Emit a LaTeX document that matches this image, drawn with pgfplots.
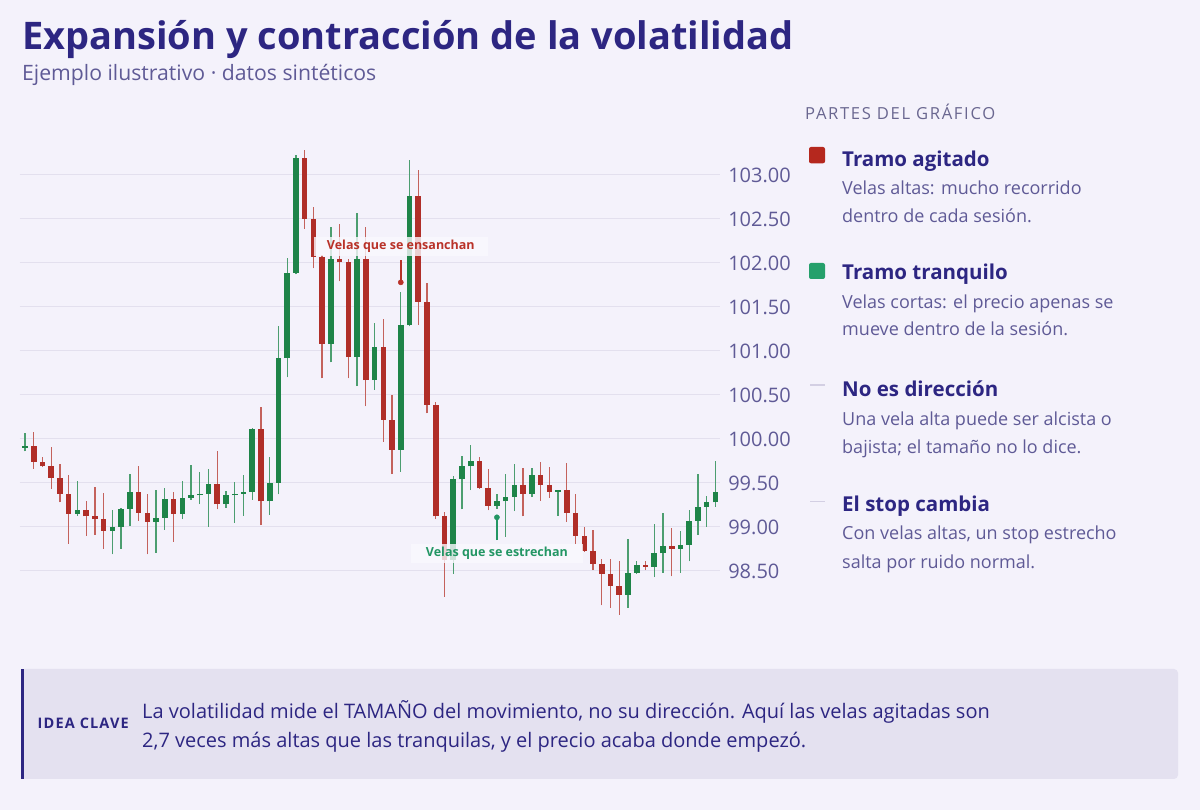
\documentclass[border=0pt]{standalone}
\usepackage{fontspec}
\setmainfont{Open Sans}
\usepackage{pgfplots}
\pgfplotsset{compat=1.18}
\usepackage{pgfplotstable}

\definecolor{bgcol}{HTML}{F4F2FB}
\definecolor{ink}{HTML}{2D2682}
\definecolor{muted}{HTML}{5F5A96}
\definecolor{hdr}{HTML}{6A6790}
\definecolor{gridc}{HTML}{E3E0EE}
\definecolor{boxc}{HTML}{E4E1F0}
\definecolor{upc}{HTML}{1E8448}
\definecolor{dnc}{HTML}{B02E28}
\definecolor{upw}{HTML}{4C9E70}
\definecolor{dnw}{HTML}{C4625C}
\definecolor{legred}{HTML}{B5281E}
\definecolor{leggreen}{HTML}{25A06B}
\definecolor{labred}{HTML}{B93229}
\definecolor{labgreen}{HTML}{239664}
\definecolor{dashc}{HTML}{D3CFE3}
\definecolor{labbg}{HTML}{FAF9FE}

% velas bajistas: x apertura maximo minimo cierre
\pgfplotstableread{
x o h l c
1 99.92 100.08 99.66 99.74
2 99.74 99.79 99.68 99.69
3 99.69 99.91 99.43 99.56
4 99.56 99.72 99.28 99.38
5 99.38 99.59 98.81 99.15
7 99.19 99.30 98.90 99.12
8 99.12 99.46 98.91 99.09
9 99.09 99.39 98.75 98.96
13 99.40 99.69 99.07 99.16
14 99.16 99.38 98.69 99.06
17 99.32 99.40 98.83 99.15
22 99.49 99.86 99.20 99.26
27 100.11 100.36 99.02 99.29
32 103.19 103.28 102.39 102.50
33 102.50 102.64 101.94 102.07
34 102.07 102.09 100.69 101.08
36 102.05 102.44 101.79 102.01
37 102.01 102.05 100.69 100.93
39 102.05 102.41 100.37 100.67
41 101.04 101.36 99.97 100.22
42 100.22 100.50 99.60 99.88
45 102.76 103.06 101.30 101.56
46 101.56 101.77 100.29 100.39
47 100.39 100.42 99.09 99.12
48 99.12 99.17 98.21 98.63
52 99.75 99.79 99.43 99.44
53 99.44 99.66 99.19 99.24
57 99.48 99.67 99.12 99.38
59 99.59 99.74 99.30 99.48
60 99.48 99.68 99.33 99.40
62 99.42 99.73 99.06 99.16
63 99.16 99.38 98.81 98.90
64 98.90 99.00 98.72 98.73
65 98.73 98.97 98.51 98.58
66 98.58 98.64 98.11 98.47
67 98.47 98.64 98.08 98.33
68 98.33 98.61 98.00 98.23
71 98.57 98.61 98.51 98.55
74 98.78 98.99 98.44 98.75
}\downtab

% velas alcistas
\pgfplotstableread{
x o h l c
0 99.90 100.07 99.86 99.92
6 99.15 99.52 99.13 99.19
10 98.96 99.19 98.69 99.00
11 99.00 99.22 98.75 99.21
12 99.21 99.60 99.01 99.40
15 99.06 99.42 98.71 99.10
16 99.10 99.44 98.97 99.32
18 99.15 99.52 99.09 99.33
19 99.33 99.70 99.31 99.36
20 99.36 99.62 99.26 99.38
21 99.38 99.66 99.00 99.49
23 99.26 99.41 99.22 99.36
24 99.36 99.51 99.05 99.38
25 99.38 99.59 99.13 99.40
26 99.40 100.13 99.31 100.11
28 99.29 99.80 99.14 99.50
29 99.50 101.28 99.37 100.92
30 100.92 102.06 100.70 101.89
31 101.89 103.23 101.87 103.19
35 101.08 102.41 100.87 102.05
38 100.93 102.57 100.60 102.05
40 100.67 101.32 100.56 101.04
43 99.88 101.67 99.63 101.29
44 101.29 103.17 101.28 102.76
49 98.63 99.58 98.47 99.54
50 99.54 99.81 99.20 99.69
51 99.69 99.93 99.42 99.75
54 99.24 99.38 99.21 99.29
55 99.29 99.60 98.89 99.34
56 99.34 99.72 99.18 99.48
58 99.38 99.67 99.34 99.59
61 99.40 99.42 99.13 99.42
69 98.23 98.86 98.08 98.48
70 98.48 98.61 98.47 98.57
72 98.55 99.03 98.43 98.70
73 98.70 99.16 98.48 98.78
75 98.75 98.95 98.48 98.80
76 98.80 99.19 98.61 99.07
77 99.07 99.60 98.91 99.23
78 99.23 99.35 99.00 99.28
79 99.28 99.75 99.23 99.40
}\uptab

\newcommand{\fs}[1]{\fontsize{#1}{#1}\selectfont}

\begin{document}
\begin{tikzpicture}[x=1pt, y=1pt]
\fill[bgcol] (0,0) rectangle (1200,810);
\useasboundingbox (0,0) rectangle (1200,810);

\begin{axis}[
    at={(19.76pt,190.6pt)}, anchor=south west,
    scale only axis, width=700pt, height=475.2pt,
    xmin=-0.6, xmax=79.5, ymin=97.95, ymax=103.35,
    axis line style={draw=none}, tick style={draw=none},
    xtick=\empty,
    ytick={98.5,99,99.5,100,100.5,101,101.5,102,102.5,103},
    yticklabel pos=right,
    ymajorgrids, grid style={gridc, line width=1pt},
    yticklabel style={anchor=west, xshift=5pt, text=muted,
        font=\fs{20},
        /pgf/number format/.cd, fixed, fixed zerofill, precision=2,
        assume math mode=true},
    clip=false,
]
% mechas
\addplot[draw=none, mark=none, error bars/.cd, y dir=plus, y explicit,
    error mark=none, error bar style={draw=dnw, line width=1.3pt}]
    table[x=x, y=l, y error plus expr=\thisrow{h}-\thisrow{l}] {\downtab};
\addplot[draw=none, mark=none, error bars/.cd, y dir=plus, y explicit,
    error mark=none, error bar style={draw=upw, line width=1.3pt}]
    table[x=x, y=l, y error plus expr=\thisrow{h}-\thisrow{l}] {\uptab};
% cuerpos
\addplot[draw=none, mark=none, error bars/.cd, y dir=plus, y explicit,
    error mark=none, error bar style={draw=dnc, line width=5.6pt}]
    table[x=x, y=c, y error plus expr=\thisrow{o}-\thisrow{c}] {\downtab};
\addplot[draw=none, mark=none, error bars/.cd, y dir=plus, y explicit,
    error mark=none, error bar style={draw=upc, line width=5.6pt}]
    table[x=x, y=o, y error plus expr=\thisrow{c}-\thisrow{o}] {\uptab};

% anotaciones
\addplot[labred, line width=1.6pt] coordinates {(43,102.03) (43,101.79)};
\addplot[only marks, mark=*, mark size=2.6pt, labred] coordinates {(43,101.78)};
\addplot[labgreen, line width=1.6pt] coordinates {(54,98.85) (54,99.10)};
\addplot[only marks, mark=*, mark size=2.6pt, labgreen] coordinates {(54,99.11)};
\node[fill=labbg, fill opacity=0.8, text opacity=1, inner xsep=13pt, inner ysep=3pt,
    text=labred, font=\bfseries\fs{12.5}] at (axis cs:43,102.19) {Velas que se ensanchan};
\node[fill=labbg, fill opacity=0.8, text opacity=1, inner xsep=15pt, inner ysep=3pt,
    text=labgreen, font=\bfseries\fs{12.5}] at (axis cs:54,98.70) {Velas que se estrechan};
\end{axis}

% titulo
\node[anchor=base west, inner sep=0, text=ink, font=\bfseries\fs{38}] at (22,760.5)
    {Expansión y contracción de la volatilidad};
\node[anchor=base west, inner sep=0, text=muted, font=\fs{21.2}] at (22,729.5)
    {Ejemplo ilustrativo · datos sintéticos};

% panel derecho
\node[anchor=base west, inner sep=0, text=hdr, font=\fs{16.6}\addfontfeature{LetterSpace=10}]
    at (805,690) {PARTES DEL GRÁFICO};

\fill[legred, rounded corners=2pt] (809,646.7) rectangle (825,663);
\node[anchor=base west, inner sep=0, text=ink, font=\bfseries\fs{20.5}] at (842,643.3) {Tramo agitado};
\node[anchor=base west, inner sep=0, text=muted, font=\fs{18}] at (842,615) {Velas altas: mucho recorrido};
\node[anchor=base west, inner sep=0, text=muted, font=\fs{18}] at (842,587) {dentro de cada sesión.};

\fill[leggreen, rounded corners=2pt] (809,531) rectangle (825,547);
\node[anchor=base west, inner sep=0, text=ink, font=\bfseries\fs{20.5}] at (842,530) {Tramo tranquilo};
\node[anchor=base west, inner sep=0, text=muted, font=\fs{18}] at (842,501.7) {Velas cortas: el precio apenas se};
\node[anchor=base west, inner sep=0, text=muted, font=\fs{18}] at (842,474.3) {mueve dentro de la sesión.};

\draw[dashc, line width=1.5pt] (810,425) -- (825,425);
\node[anchor=base west, inner sep=0, text=ink, font=\bfseries\fs{20.5}] at (842,413.3) {No es dirección};
\node[anchor=base west, inner sep=0, text=muted, font=\fs{18}] at (842,384.3) {Una vela alta puede ser alcista o};
\node[anchor=base west, inner sep=0, text=muted, font=\fs{18}] at (842,356.7) {bajista; el tamaño no lo dice.};

\draw[dashc, line width=1.5pt] (810,308.3) -- (825,308.3);
\node[anchor=base west, inner sep=0, text=ink, font=\bfseries\fs{20.5}] at (842,298.3) {El stop cambia};
\node[anchor=base west, inner sep=0, text=muted, font=\fs{18}] at (842,270) {Con velas altas, un stop estrecho};
\node[anchor=base west, inner sep=0, text=muted, font=\fs{18}] at (842,241.7) {salta por ruido normal.};

% idea clave
\fill[boxc, rounded corners=4pt] (21,31) rectangle (1178,141);
\fill[ink] (21,31) rectangle (24,141);
\node[anchor=base west, inner sep=0, text=ink, font=\bfseries\fs{14.5}\addfontfeature{LetterSpace=8}]
    at (37.5,81.5) {IDEA CLAVE};
\node[anchor=base west, inner sep=0, text=ink, font=\fs{20}] at (142,91)
    {La volatilidad mide el TAMAÑO del movimiento, no su dirección. Aquí las velas agitadas son};
\node[anchor=base west, inner sep=0, text=ink, font=\fs{20}] at (142,62.5)
    {2,7 veces más altas que las tranquilas, y el precio acaba donde empezó.};
\end{tikzpicture}
\end{document}
